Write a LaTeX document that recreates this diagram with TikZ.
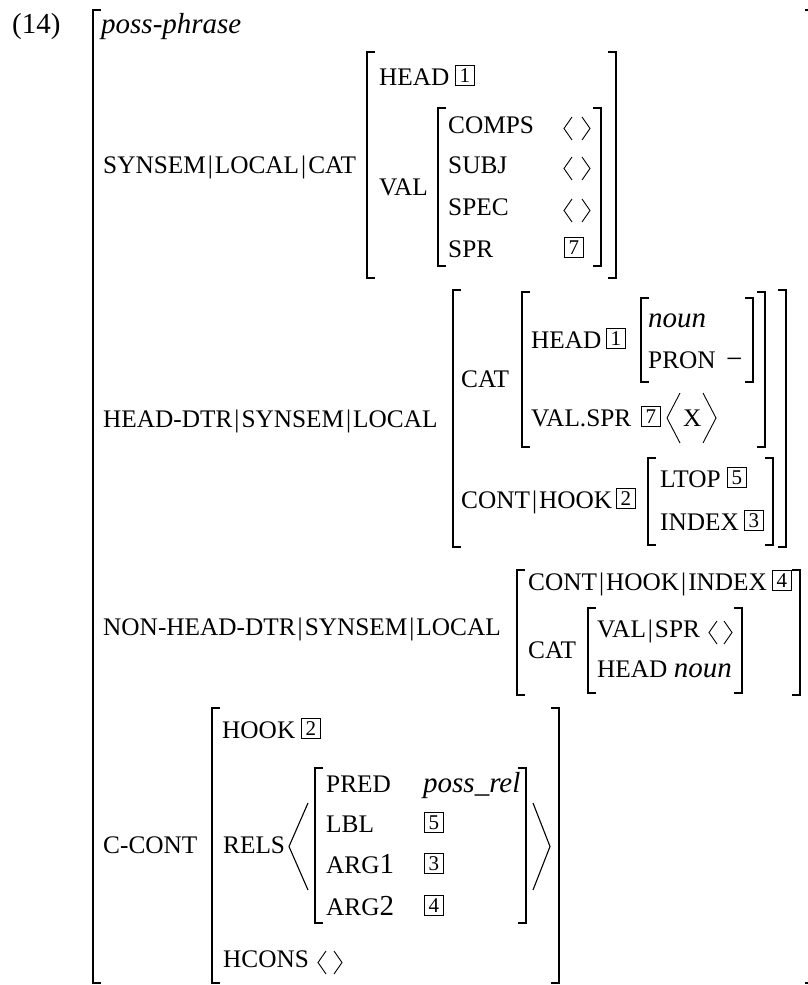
\documentclass[tikz,border=0pt]{standalone}
\usepackage{fontspec}
\setmainfont{Liberation Serif}
\newcommand{\M}{\fontsize{29}{29}\selectfont}
\newcommand{\At}{\fontsize{25.3}{25.3}\selectfont}
\newcommand{\Tg}{\fontsize{21}{21}\selectfont}
\newcommand{\vb}{\kern2pt\textbar\kern2pt}
\newcommand{\LBr}[3]{\draw[brk] ({#1+8},#2) -- (#1,#2) -- (#1,#3) -- ({#1+8},#3);}
\newcommand{\RBr}[3]{\draw[brk] ({#1-8},#2) -- (#1,#2) -- (#1,#3) -- ({#1-8},#3);}
\newcommand{\AL}[4]{\draw[ang] (#2,#3) -- (#1,{(#3+#4)/2}) -- (#2,#4);}
\newcommand{\AR}[4]{\draw[ang] (#1,#3) -- (#2,{(#3+#4)/2}) -- (#1,#4);}
\tikzset{
  brk/.style={line width=1.3pt, line join=miter},
  ang/.style={line width=0.9pt},
  lab/.style={anchor=base west, inner sep=0pt, font=\At},
  val/.style={anchor=base west, inner sep=0pt, font=\M},
  tag/.style={draw, line width=0.7pt, minimum width=19pt, minimum height=20pt, inner sep=0pt, anchor=south west, font=\Tg},
}
\begin{document}
\begin{tikzpicture}[x=1pt,y=-1pt]
\useasboundingbox (0,0) rectangle (808,985);
% outer
\node[val] (n14) at (12,33) {(14)};
\node[val] (pp) at (101,33) {\textit{poss-phrase}};
\LBr{93}{10}{983} \RBr{813}{10}{983}
% SYNSEM|LOCAL|CAT
\node[lab] (ss) at (103,173) {SYNSEM\vb LOCAL\vb CAT};
\LBr{367}{52}{278} \RBr{616}{52}{278}
\node[lab] (h1) at (379,85) {HEAD};
\node[tag] (t1a) at (455,86) {1};
\node[lab] (val) at (379,195) {VAL};
\LBr{438}{108}{266} \RBr{601}{108}{266}
\node[lab] (comps) at (448,133) {COMPS};
\node[lab] (subj) at (448,173) {SUBJ};
\node[lab] (spec) at (448,215) {SPEC};
\node[lab] (spr) at (448,257) {SPR};
\AL{564}{572}{117}{140} \AR{582}{590}{117}{140}
\AL{564}{572}{157}{180} \AR{582}{590}{157}{180}
\AL{564}{572}{199}{222} \AR{582}{590}{199}{222}
\node[tag] (t7a) at (564,258) {7};
% HEAD-DTR
\node[lab] (hd) at (103,427) {HEAD-DTR\vb SYNSEM\vb LOCAL};
\LBr{453}{290}{547} \RBr{786}{290}{547}
\node[lab] (cat2) at (461,387) {CAT};
\LBr{522}{292}{447} \RBr{765}{292}{447}
\node[lab] (h2) at (531,348) {HEAD};
\node[tag] (t1b) at (606,349) {1};
\LBr{641}{298}{382} \RBr{753}{298}{382}
\node[val] (noun1) at (648,327) {\textit{noun}};
\node[lab] (pron) at (648,368) {PRON};
\node[val] (minus) at (726,368) {−};
\node[lab] (vs) at (531,426) {VAL.SPR};
\node[tag] (t7b) at (641,427) {7};
\AL{667}{680}{393}{443}
\node[lab] (xx) at (683,426) {X};
\AR{703}{716}{393}{443}
\node[lab] (ch) at (461,508) {CONT\vb HOOK};
\node[tag] (t2a) at (616,509) {2};
\LBr{648}{458}{545} \RBr{773}{458}{545}
\node[lab] (ltop) at (660,487) {LTOP};
\node[tag] (t5a) at (727,488) {5};
\node[lab] (idx) at (660,530) {INDEX};
\node[tag] (t3a) at (744,531) {3};
% NON-HEAD-DTR
\node[lab] (nh) at (103,635) {NON-HEAD-DTR\vb SYNSEM\vb LOCAL};
\LBr{517}{570}{695} \RBr{800}{570}{695}
\node[lab] (chi) at (528,590) {CONT\vb HOOK\vb INDEX};
\node[tag] (t4a) at (772,591) {4};
\node[lab] (cat3) at (528,658) {CAT};
\LBr{588}{608}{693} \RBr{742}{608}{693}
\node[lab] (vspr) at (597,637) {VAL\vb SPR};
\AL{709}{717}{621}{644} \AR{724}{732}{621}{644}
\node[lab] (h3) at (597,677) {HEAD {\M\itshape noun}};
% C-CONT
\node[lab] (cc) at (103,853) {C-CONT};
\LBr{212}{708}{983} \RBr{559}{708}{983}
\node[lab] (hook) at (222,738) {HOOK};
\node[tag] (t2b) at (301,739) {2};
\node[lab] (rels) at (223,853) {RELS};
\draw[ang, line width=1.1pt] (308,803) -- (289,846.5) -- (308,890);
\LBr{315}{768}{923} \RBr{526}{768}{923}
\node[lab] (pred) at (326,792) {PRED};
\node[val] (prel) at (423,792) {\textit{poss\_rel}};
\node[lab] (lbl) at (326,832) {LBL};
\node[tag] (t5b) at (424,833) {5};
\node[lab] (arg1) at (326,873) {ARG{\M 1}};
\node[tag] (t3b) at (424,874) {3};
\node[lab] (arg2) at (326,915) {ARG{\M 2}};
\node[tag] (t4b) at (424,916) {4};
\draw[ang, line width=1.1pt] (533,803) -- (550,846.5) -- (533,890);
\node[lab] (hcons) at (223,967) {HCONS};
\AL{318}{326}{951}{974} \AR{334}{342}{951}{974}
\end{tikzpicture}
\end{document}
